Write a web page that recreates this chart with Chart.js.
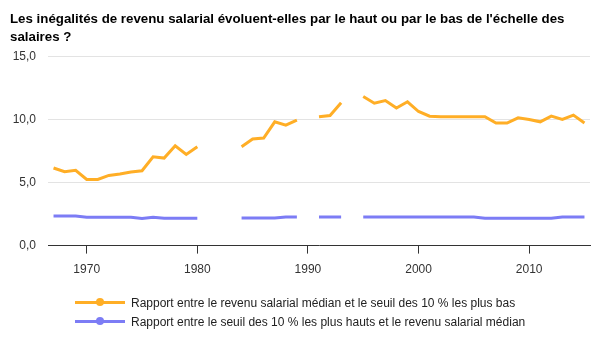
<!DOCTYPE html>
<html lang="fr">
<head>
<meta charset="utf-8">
<script src="https://cdn.jsdelivr.net/npm/chart.js@4/dist/chart.umd.min.js"></script>
<style>
  body { margin: 0; background: #fff; font-family: 'Liberation Sans', Arial, sans-serif; }
  #wrap { position: relative; width: 600px; height: 350px; }
  #legend { position: absolute; left: 75px; top: 293px; font-size: 12px; color: #222; }
  .item { display: flex; align-items: center; height: 19px; }
  .mark { position: relative; display: inline-block; width: 50px; height: 3px; margin-right: 6px; }
  .mark i { position: absolute; left: 21px; top: -3px; width: 8px; height: 8px; border-radius: 50%; }
</style>
</head>
<body>
<div id="wrap">
  <canvas id="chartSalaires"></canvas>
  <div id="legend"></div>
</div>
<script>
const years = [1967, 1968, 1969, 1970, 1971, 1972, 1973, 1974, 1975, 1976, 1977, 1978, 1979, 1980,
    1981, 1982, 1983, 1984, 1985, 1986, 1987, 1988, 1989, 1990, 1991, 1992, 1993, 1994,
    1995, 1996, 1997, 1998, 1999, 2000, 2001, 2002, 2003, 2004, 2005, 2006, 2007, 2008,
    2009, 2010, 2011, 2012, 2013, 2014, 2015];
// rapport D5/D1
const medianBottom = [6.17, 5.87, 5.98, 5.26, 5.26, 5.58, 5.69, 5.85, 5.95, 7.06, 6.96, 7.94, 7.25, 7.86,
    null, null, null, 7.86, 8.47, 8.55, 9.84, 9.58, 9.97, null, 10.24, 10.34, 11.35, null,
    11.86, 11.32, 11.53, 10.93, 11.43, 10.66, 10.29, 10.24, 10.24, 10.24, 10.24, 10.24, 9.74, 9.74,
    10.16, 10.03, 9.84, 10.29, 10.03, 10.37, 9.74];
// rapport D9/D5
const topMedian = [2.35, 2.35, 2.35, 2.25, 2.25, 2.25, 2.25, 2.25, 2.15, 2.25, 2.17, 2.17, 2.17, 2.17,
    null, null, null, 2.2, 2.2, 2.2, 2.2, 2.28, 2.28, null, 2.28, 2.28, 2.28, null,
    2.28, 2.28, 2.28, 2.28, 2.28, 2.28, 2.28, 2.28, 2.28, 2.28, 2.28, 2.17, 2.17, 2.17,
    2.17, 2.17, 2.17, 2.17, 2.28, 2.28, 2.28];
const yearTicks = [1970, 1980, 1990, 2000, 2010];
const labelsSeries = [
    'Rapport entre le revenu salarial médian et le seuil des 10 % les plus bas',
    'Rapport entre le seuil des 10 % les plus hauts et le revenu salarial médian'];
const COLORS = ['rgb(255, 174, 38)', 'rgb(124, 124, 245)'];

function toPoints(values) {
    return years.map((yr, i) => ({ x: yr, y: values[i] }));
}

const data = {
    datasets: [medianBottom, topMedian].map((values, i) => ({
        label: labelsSeries[i],
        data: toPoints(values),
        borderColor: COLORS[i],
        backgroundColor: COLORS[i],
        borderWidth: 3,
        pointRadius: 0,
        tension: 0,
        spanGaps: false
    }))
};

const config = {
    type: 'line',
    data: data,
    options: {
        responsive: true,
        maintainAspectRatio: false,
        animation: false,
        layout: { padding: { left: 10, right: 10, top: 10, bottom: 64 } },
        plugins: {
            legend: { display: false },
            tooltip: { enabled: false },
            title: {
                display: true,
                align: 'start',
                text: ["Les inégalités de revenu salarial évoluent-elles par le haut ou par le bas de l'échelle des",
                    'salaires ?'],
                color: '#000',
                font: { family: "'Liberation Sans', Arial, sans-serif", size: 13.3, weight: 'bold', lineHeight: 1.35 },
                padding: { top: 0, bottom: 11 }
            }
        },
        scales: {
            x: {
                type: 'linear',
                min: 1966.5,
                max: 2015.5,
                afterBuildTicks: (scale) => { scale.ticks = yearTicks.map(v => ({ value: v })); },
                grid: { drawOnChartArea: false, color: '#333', tickLength: 8 },
                border: { color: '#333' },
                ticks: {
                    color: '#333',
                    padding: 9,
                    font: { family: "'Liberation Sans', Arial, sans-serif", size: 12 },
                    callback: (v) => String(v)
                }
            },
            y: {
                min: 0,
                max: 15,
                afterFit: (scale) => { scale.width = 38; },
                grid: { color: '#e3e3e3', drawTicks: false },
                border: { display: false },
                ticks: {
                    stepSize: 5,
                    color: '#333',
                    padding: 12,
                    font: { family: "'Liberation Sans', Arial, sans-serif", size: 12 },
                    callback: (v) => v.toFixed(1).replace('.', ',')
                }
            }
        }
    }
};

const ctx = document.getElementById('chartSalaires');
new Chart(ctx, config);

const legend = document.getElementById('legend');
labelsSeries.forEach((txt, i) => {
    const row = document.createElement('div');
    row.className = 'item';
    row.innerHTML = '<span class="mark" style="background:' + COLORS[i] + '"><i style="background:' +
        COLORS[i] + '"></i></span><span>' + txt + '</span>';
    legend.appendChild(row);
});
</script>
</body>
</html>
